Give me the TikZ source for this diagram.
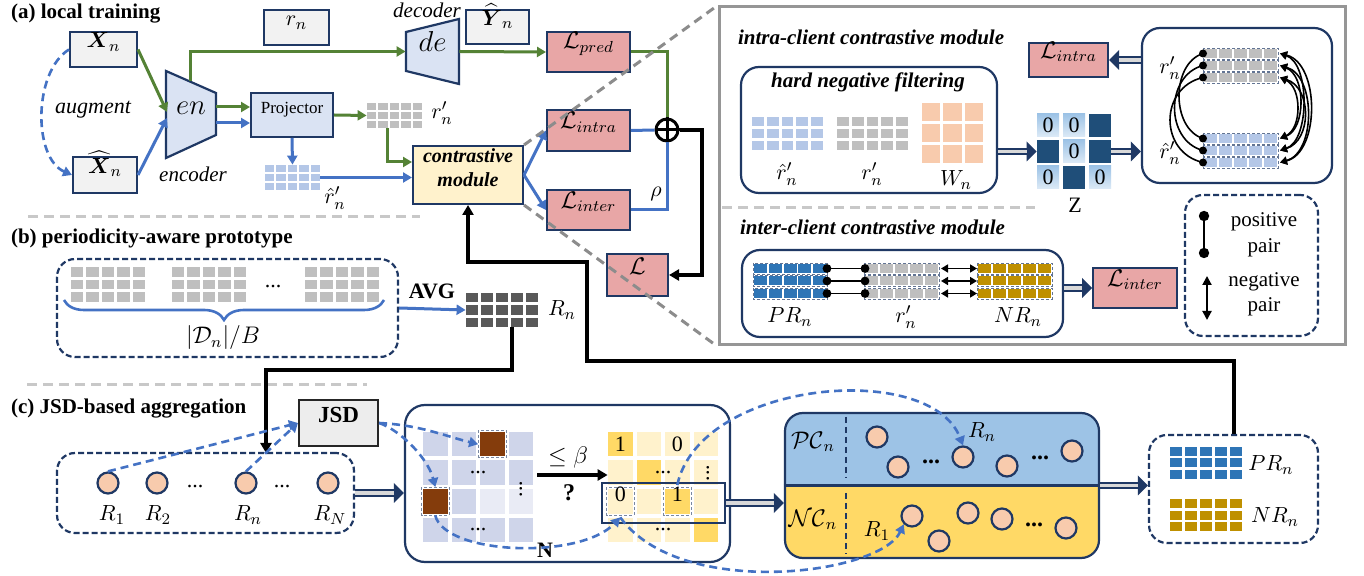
\documentclass[tikz,border=0pt]{standalone}
\usepackage{fontspec}
\setmainfont{Liberation Serif}
\usepackage{amsmath,amssymb}
\usetikzlibrary{arrows.meta,fit,decorations.pathreplacing,calc}

\definecolor{navy}{RGB}{31,56,100}
\definecolor{boxgray}{RGB}{242,242,242}
\definecolor{lblue}{RGB}{218,227,243}
\definecolor{lpink}{RGB}{232,166,166}
\definecolor{lyel}{RGB}{255,242,204}
\definecolor{agreen}{RGB}{84,130,53}
\definecolor{ablue}{RGB}{68,114,196}
\definecolor{cgray}{RGB}{191,191,191}
\definecolor{cblue}{RGB}{180,199,231}
\definecolor{cdark}{RGB}{89,89,89}
\definecolor{prblue}{RGB}{46,117,182}
\definecolor{nrgold}{RGB}{191,144,0}
\definecolor{peach}{RGB}{248,203,173}
\definecolor{zdark}{RGB}{31,78,121}
\definecolor{zlight}{RGB}{157,195,230}
\definecolor{jsdfill}{RGB}{237,237,237}
\definecolor{mpurple}{RGB}{207,213,234}
\definecolor{mpurplel}{RGB}{233,235,245}
\definecolor{mbrown}{RGB}{132,60,12}
\definecolor{mgold}{RGB}{255,217,102}
\definecolor{pcblue}{RGB}{157,195,230}
\definecolor{sepgray}{RGB}{200,200,200}
\definecolor{linkgray}{RGB}{140,140,140}
\definecolor{panelgray}{RGB}{150,150,150}

\tikzset{
  fsz/.style={font=\fontsize{#1}{#1}\selectfont},
  nbox/.style={draw=navy, line width=1pt, inner sep=0pt},
  graybox/.style={nbox, fill=boxgray, fsz=11},
  pinkbox/.style={nbox, fill=lpink, fsz=12},
  rbox/.style={draw=navy, line width=1.1pt, rounded corners=9pt, inner sep=0pt},
  dbox/.style={rbox, dash pattern=on 3pt off 1.5pt},
  gline/.style={agreen, line width=1.5pt},
  garrow/.style={gline, -{Triangle[length=4.5pt,width=5pt]}},
  bline/.style={ablue, line width=1.5pt},
  barrow/.style={bline, -{Triangle[length=4.5pt,width=5pt]}},
  kline/.style={black, line width=2pt},
  karrow/.style={kline, -{Triangle[length=5pt,width=5.5pt]}},
  bdash/.style={ablue, line width=1.3pt, dash pattern=on 4pt off 2.5pt, -{Triangle[length=4.5pt,width=5pt]}},
  sepline/.style={sepgray, line width=1.5pt, dash pattern=on 5pt off 3pt},
  linkline/.style={linkgray, line width=1.5pt, dash pattern=on 4.5pt off 3pt},
  cnode/.style={circle, fill=peach, draw=navy, line width=1.1pt, minimum size=10.5pt, inner sep=0pt},
  lab/.style={fsz=11, inner sep=1pt},
  vdot/.style={fsz=11, inner sep=0pt, rotate=90},
  celloutline/.style={draw=navy!60, line width=0.5pt, dash pattern=on 1.5pt off 1pt},
  pairline/.style={black, line width=0.8pt},
  pairtips/.style={pairline, {Triangle[length=3.5pt,width=4pt]}-{Triangle[length=3.5pt,width=4pt]}},
  ttl/.style={font=\fontsize{10.5}{12}\selectfont\bfseries, anchor=west},
  ttli/.style={font=\fontsize{10.5}{12}\selectfont\bfseries\itshape, anchor=west},
}

% grid of filled cells: x0, y0, columns, rows, cell width, cell height, gap, colour
\newcommand\cellgrid[8]{%
  \foreach \gi in {1,...,#3}{\foreach \gj in {1,...,#4}{%
    \fill[#8] ({#1+(\gi-1)*(#5+#7)},{#2+(\gj-1)*(#6+#7)}) rectangle ++(#5,#6);}}}
% one row of cells inside a dashed frame: x0, y0, cells, cell width, step, height, colour
\newcommand\cellrow[7]{%
  \foreach \gi in {1,...,#3}{\fill[#7] ({#1+1+(\gi-1)*#5},{#2+1}) rectangle ++(#4,{#6-2});}%
  \draw[navy!70, line width=0.4pt, dash pattern=on 1.5pt off 1pt] ({#1},{#2}) rectangle ++({(#3-1)*#5+#4+2},{#6});}
% thick outlined block arrow
\newcommand\holarrow[2]{%
  \draw[navy, line width=3.8pt, -{Triangle[length=5pt,width=10pt,line width=0pt]}] #1 -- #2;
  \draw[gray!30, line width=1.8pt, shorten >=5pt] #1 -- #2;}

\begin{document}
\begin{tikzpicture}[x=0.5pt,y=-0.5pt]
\fill[white] (0,0) rectangle (1364,576);
\useasboundingbox (0,0) rectangle (1364,576);

%% ================= (a) local training =================
\node[ttl] (ta) at (4,14) {(a) local training};

\node[graybox, fit={(70,32)(137,67)}] (xn) {$\boldsymbol{X}_n$};
\node[graybox, fit={(73,157)(137,193)}] (xh) {$\widehat{\boldsymbol{X}}_n$};
\node[font=\fontsize{11}{12}\selectfont\itshape] (aug) at (93,110) {augment};

% encoder
\draw[navy, line width=1.1pt, fill=lblue] (166,71) -- (216,93) -- (216,135) -- (166,158) -- cycle;
\node[fit={(166,71)(216,158)}, inner sep=0pt, fsz=15] (enc) {$en$};
\node[font=\fontsize{10.5}{12}\selectfont\itshape] (encl) at (193,174) {encoder};
\coordinate (encA) at (167,112);
\coordinate (encB) at (167,118);
\coordinate (encT) at (190,81.5);
\coordinate (encR1) at (216,107);
\coordinate (encR2) at (216,123);

% decoder
\draw[navy, line width=1.1pt, fill=lblue] (406,32) -- (459,19) -- (459,84) -- (406,71) -- cycle;
\node[fit={(406,19)(459,84)}, inner sep=0pt, fsz=15] (dec) {$de$};
\node[font=\fontsize{10.5}{12}\selectfont\itshape, inner sep=1pt] (decl) at (427,10) {decoder};

\node[graybox, fit={(264,10)(329,45)}] (rn) {$r_n$};
\node[graybox, fit={(466,10)(529,44)}] (yh) {$\widehat{\boldsymbol{Y}}_n$};

\node[nbox, fill=lblue, fit={(251,93)(333,137)}, fsz=8.5] (proj) {Projector};

% projected representations
\cellgrid{367}{103}{5}{3}{9.4}{7}{2}{cgray}
\node[fit={(367,103)(422,128)}, inner sep=0pt] (rpg) {};
\node[lab] (rpl) at (442,113) {$r'_n$};
\coordinate (rpgb) at (387,128);
\cellgrid{265}{165}{5}{3}{9.4}{7}{2}{cblue}
\node[fit={(265,165)(320,190)}, inner sep=0pt] (rhg) {};
\node[lab] (rhl) at (335,198) {$\hat{r}'_n$};

\node[nbox, fill=lyel, fit={(413,146)(523,204)}, align=center, font=\fontsize{10}{12}\selectfont\bfseries\itshape] (cm) {contrastive\\module};

\node[pinkbox, fit={(547,32)(630,72)}] (lpred) {$\mathcal{L}_{pred}$};
\node[pinkbox, fit={(547,110)(630,151)}] (lintra) {$\mathcal{L}_{intra}$};
\node[pinkbox, fit={(547,190)(630,230)}] (linter) {$\mathcal{L}_{inter}$};
\node[pinkbox, fit={(607,254)(668,296)}] (lt) {$\mathcal{L}$};
\node[lab] (rho) at (656,194) {$\rho$};

% connectors of (a)
\draw[bdash] (xn.west) .. controls (33,72) and (33,158) .. (xh.west);
\draw[garrow] (xn.east) -- (encA);
\draw[barrow] (xh.east) -- (encB);
\draw[garrow] (encT) |- (dec.west);
\draw[garrow] (encR1) -- (proj.west |- encR1);
\draw[barrow] (encR2) -- (proj.west |- encR2);
\draw[garrow] (proj.east) -- (rpg.west);
\draw[barrow] (proj.south) -- (rhg.north);
\draw[barrow] (rhg.east) -- (cm.west |- rhg.east);
\draw[garrow] (rpgb) |- ([yshift=6.5pt]cm.west);
\draw[garrow] (dec.east) -- (lpred.west);
\draw[barrow] (cm.east) -- (lintra.west);
\draw[barrow] (cm.east) -- (linter.west);
\node[circle, draw=black, fill=white, line width=1.5pt, minimum size=11pt, inner sep=0pt] (op) at (667,130) {};
\draw[gline] (lpred.east) -| (op.north);
\draw[bline] (lintra.east) -- (op.west);
\draw[bline] (linter.east) -| (op.south);
\draw[black, line width=1.5pt] (op.north) -- (op.south) (op.west) -- (op.east);
\draw[karrow] (op.east) -- ++(22,0) |- (lt.east);

\draw[sepline] (28,217) -- (420,217);

%% ================= (b) periodicity-aware prototype =================
\node[ttl] (tb) at (4,238) {(b) periodicity-aware prototype};
\node[dbox, fit={(57,259)(398,357)}] (pbox) {};
\cellgrid{71}{267}{5}{3}{12.4}{9.7}{3}{cgray}
\cellgrid{172}{267}{5}{3}{12.4}{9.7}{3}{cgray}
\cellgrid{305}{267}{5}{3}{12.4}{9.7}{3}{cgray}
\node[lab] (pdots) at (273,287) {...};
\draw[ablue, line width=1.3pt, decorate, decoration={brace, mirror, amplitude=10pt}] (64,300) -- (384,300);
\node[fsz=12] (dnb) at (223,338) {$|\mathcal{D}_n|/B$};
\node[font=\fontsize{11}{12}\selectfont\bfseries] (avg) at (432,291) {AVG};
\cellgrid{466}{293}{5}{3}{12}{9.3}{3}{cdark}
\node[fit={(466,293)(538,327)}, inner sep=0pt] (rg) {};
\node[lab] (rnl) at (562,310) {$R_n$};
\coordinate (rgb) at (512,327);
\draw[barrow] (pbox.east) -- (rg.west);

\draw[sepline] (27,385) -- (367,385);

%% ================= (c) JSD-based aggregation =================
\node[ttl] (tc) at (4,409) {(c) JSD-based aggregation};
\node[draw={rgb,255:red,38;green,38;blue,38}, fill=jsdfill, line width=1.1pt, inner sep=0pt, fit={(299,400)(378,446)}, font=\fontsize{11.5}{12}\selectfont\bfseries] (jsd) {JSD};

\node[dbox, fit={(57,453)(354,533)}] (rbx) {};
\coordinate (rbin) at (266,453);
\node[cnode] (c1) at (108,483) {};
\node[cnode] (c2) at (157,483) {};
\node[cnode] (cn) at (246,483) {};
\node[cnode] (cN) at (328,483) {};
\node[lab] (l1) at (112,515) {$R_1$};
\node[lab] (l2) at (158,515) {$R_2$};
\node[lab] (ln) at (248,515) {$R_n$};
\node[lab] (lN) at (330,515) {$R_N$};
\node[lab] (d1) at (195,487) {...};
\node[lab] (d2) at (282,487) {...};

% similarity matrix and thresholded matrix
\node[rbox, rounded corners=10pt, fit={(405,405)(730,562)}] (mbox) {};
\foreach \rr in {0,...,3}{\foreach \cc in {0,...,3}{%
  \fill[mpurple] ({423+28.5*\cc},{432+28.5*\rr}) rectangle ++(24.5,24.5);
  \fill[lyel] ({608+28.5*\cc},{432+28.5*\rr}) rectangle ++(24.5,24.5);}}
\node[fit={(423,432)(533,542)}, inner sep=0pt] (lmat) {};
\node[fit={(608,432)(718,542)}, inner sep=0pt] (rmat) {};
\fill[mpurplel] (480,489) rectangle ++(24.5,24.5);
\fill[mpurplel] (508.5,489) rectangle ++(24.5,24.5);
\fill[mbrown] (480,432) rectangle ++(24.5,24.5);
\fill[mbrown] (423,489) rectangle ++(24.5,24.5);
\draw[celloutline] (478.5,430.5) rectangle ++(27.5,27.5);
\draw[celloutline] (421.5,487.5) rectangle ++(27.5,27.5);
\node[fit={(478.5,430.5)(506,458)}, inner sep=0pt] (brA) {};
\node[fit={(421.5,487.5)(449,515)}, inner sep=0pt] (brB) {};
\node[lab, inner sep=0pt] (ld1) at (478,473) {...};
\node[lab, inner sep=0pt] (ld2) at (478,530) {...};
\node[vdot] (ld3) at (521,489) {...};

\fill[mgold] (608,432) rectangle ++(24.5,24.5);
\fill[mgold] (636.5,460.5) rectangle ++(24.5,24.5);
\fill[mgold] (665,489) rectangle ++(24.5,24.5);
\fill[mgold] (693.5,517.5) rectangle ++(24.5,24.5);
\draw[celloutline] (606.5,487.5) rectangle ++(27.5,27.5);
\draw[celloutline] (663.5,487.5) rectangle ++(27.5,27.5);
\node[fit={(606.5,487.5)(634,515)}, inner sep=0pt, lab] (zc) {0};
\node[fit={(663.5,487.5)(691,515)}, inner sep=0pt, lab] (oc) {1};
\node[lab] (m11) at (620.25,444.25) {1};
\node[lab] (m13) at (677.25,444.25) {0};
\node[lab, inner sep=0pt] (rd1) at (663,473) {...};
\node[lab, inner sep=0pt] (rd2) at (663,530) {...};
\node[vdot] (rd3) at (708,473) {...};
\node[draw=navy, line width=1.2pt, inner sep=0pt, fit={(602,483)(725,523)}] (rowr) {};
\node[fsz=12] (beta) at (568,458) {$\leq\beta$};
\node[font=\fontsize{12}{12}\selectfont\bfseries] (qm) at (569,493) {?};
\node[font=\fontsize{11}{12}\selectfont\bfseries] (nl) at (545,550) {N};

% positive / negative clusters
\begin{scope}
  \clip[rounded corners=9pt] (785,413) rectangle (1099,558);
  \fill[pcblue] (785,413) rectangle (1099,486);
  \fill[mgold] (785,486) rectangle (1099,558);
\end{scope}
\node[rbox, fit={(785,413)(1099,558)}] (pcnc) {};
\draw[navy, line width=1.1pt] (pcnc.west) -- (pcnc.east);
\draw[navy, line width=1.1pt, dash pattern=on 3pt off 2pt] (846,417) -- (846,478) (846,493) -- (846,554);
\node[fsz=12] (pcl) at (813,442) {$\mathcal{PC}_n$};
\node[fsz=12] (ncl) at (813,520) {$\mathcal{NC}_n$};
\node[cnode] (pc1) at (877,437) {};
\node[cnode] (pc2) at (898,467) {};
\node[cnode] (pc3) at (963,457) {};
\node[cnode] (pc4) at (1007,466) {};
\node[cnode] (pc5) at (1072,451) {};
\node[cnode] (nc1) at (912,516) {};
\node[cnode] (nc2) at (939,541) {};
\node[cnode] (nc3) at (968,513) {};
\node[cnode] (nc4) at (1002,519) {};
\node[cnode] (nc5) at (1066,528) {};
\node[font=\fontsize{12}{12}\selectfont\bfseries] (pd1) at (931,462) {...};
\node[font=\fontsize{12}{12}\selectfont\bfseries] (pd2) at (1040,458) {...};
\node[font=\fontsize{12}{12}\selectfont\bfseries] (nd1) at (1034,525) {...};
\node[lab] (pcrn) at (982,432) {$R_n$};
\node[lab] (ncr1) at (877,531) {$R_1$};

% prototypes
\node[dbox, fit={(1149,435)(1318,543)}] (prnr) {};
\cellgrid{1170}{447}{5}{3}{12.4}{9}{2.5}{prblue}
\cellgrid{1170}{499}{5}{3}{12.4}{9}{2.5}{nrgold}
\node[lab] (prl) at (1271,465) {$PR_n$};
\node[lab] (nrl) at (1275,517) {$NR_n$};

%% ================= contrastive module detail =================
\node[draw=panelgray, line width=1.5pt, inner sep=0pt, fit={(719,7)(1345,345)}] (panel) {};
\node[ttli] (tintra) at (731,37) {intra-client contrastive module};
\node[rbox, fit={(741,67)(997,193)}] (hnf) {};
\node[font=\fontsize{10.5}{12}\selectfont\bfseries\itshape] (hnft) at (868,82) {hard negative filtering};
\cellgrid{752}{117}{5}{3}{11.8}{9}{3}{cblue}
\cellgrid{837}{117}{5}{3}{11.8}{9}{3}{cgray}
\cellgrid{922}{103}{3}{3}{18.3}{18}{3}{peach}
\node[lab] (hl1) at (787,174) {$\hat{r}'_n$};
\node[lab] (hl2) at (872,174) {$r'_n$};
\node[lab] (hl3) at (956,180) {$W_n$};

\foreach \rr/\cc/\kk in {0/0/0,0/1/0,0/2/1,1/0/1,1/1/0,1/2/1,2/0/0,2/1/1,2/2/0}{%
  \ifnum\kk=1
    \fill[zdark] ({1037+26*\cc},{114+26*\rr}) rectangle ++(22,23);
  \else
    \shade[top color=zlight, bottom color=zlight!35] ({1037+26*\cc},{114+26*\rr}) rectangle ++(22,23);
    \node[lab] (z\rr\cc) at ({1048+26*\cc},{125.5+26*\rr}) {0};
  \fi}
\node[fit={(1037,114)(1111,189)}, inner sep=0pt] (zm) {};
\node[lab] (zl) at (1075,205) {Z};

\node[rbox, fit={(1142,28)(1332,183)}] (rb) {};
\node[pinkbox, fit={(1029,43)(1108,77)}] (lintra2) {$\mathcal{L}_{intra}$};
\node[lab] (rbl1) at (1170,68) {$r'_n$};
\node[lab] (rbl2) at (1170,153) {$\hat{r}'_n$};
\foreach \ii in {0,1,2}{%
  \cellrow{1203}{48+12*\ii}{5}{13}{15}{11}{cgray}
  \cellrow{1203}{133+12*\ii}{5}{13}{15}{11}{cblue}}
% positive pairs (left) and negative pairs (right)
\foreach \ii/\bb in {0/32,1/38,2/44}{%
  \draw[pairline] (1203,{53.5+12*\ii}) .. controls ({1203-\bb},{63.5+12*\ii}) and ({1203-\bb},{128.5+12*\ii}) .. (1203,{138.5+12*\ii});}
\foreach \ii/\jj/\bb in {0/1/30,0/2/40,1/0/26,1/2/36,2/0/22,2/1/32}{%
  \draw[pairtips] (1280,{53.5+12*\ii}) .. controls ({1280+\bb},{63.5+12*\ii}) and ({1280+\bb},{128.5+12*\jj}) .. (1280,{138.5+12*\jj});}
\foreach \ii in {0,1,2}{%
  \fill (1203,{53.5+12*\ii}) circle[radius=2pt];
  \fill (1203,{138.5+12*\ii}) circle[radius=2pt];}

\draw[sepline] (722,208) -- (1035,208);

\node[ttli] (tinter) at (733,227) {inter-client contrastive module};
\node[rbox, fit={(742,250)(1063,337)}] (ib) {};
\foreach \ii in {0,1,2}{%
  \cellrow{753}{263+12.5*\ii}{5}{13}{14.8}{11}{prblue}
  \cellrow{864}{263+12.5*\ii}{5}{13}{15}{11}{cgray}
  \cellrow{977}{263+12.5*\ii}{5}{13}{15}{11}{nrgold}
  \draw[pairline] (827,{268.5+12.5*\ii}) -- (865,{268.5+12.5*\ii});
  \fill (827,{268.5+12.5*\ii}) circle[radius=2.2pt];
  \fill (865,{268.5+12.5*\ii}) circle[radius=2.2pt];
  \draw[pairtips] (941,{268.5+12.5*\ii}) -- (977,{268.5+12.5*\ii});}
\node[lab] (il1) at (790,317) {$PR_n$};
\node[lab] (il2) at (906,317) {$r'_n$};
\node[lab] (il3) at (1018,317) {$NR_n$};
\node[pinkbox, fit={(1093,268)(1177,308)}] (linter2) {$\mathcal{L}_{inter}$};

\node[dbox, fit={(1185,195)(1318,336)}] (leg) {};
\coordinate (pp1) at (1204,216);
\coordinate (pp2) at (1204,253);
\draw[pairline, line width=1pt] (pp1) -- (pp2);
\fill (pp1) circle[radius=2.6pt];
\fill (pp2) circle[radius=2.6pt];
\coordinate (np1) at (1207,276);
\coordinate (np2) at (1207,320);
\draw[black, line width=1pt, {Triangle[length=4.5pt,width=4.5pt]}-{Triangle[length=4.5pt,width=4.5pt]}] (np1) -- (np2);
\node[fsz=10.5] (lg1) at (1264,222) {positive};
\node[fsz=10.5] (lg2) at (1264,248) {pair};
\node[fsz=10.5] (lg3) at (1264,282) {negative};
\node[fsz=10.5] (lg4) at (1264,307) {pair};

%% ================= connectors =================
\holarrow{(hnf.east |- zm.west)}{(zm.west)}
\holarrow{(zm.east)}{(rb.west |- zm.east)}
\holarrow{(rb.west |- lintra2.east)}{(lintra2.east)}
\holarrow{(ib.east |- linter2.west)}{(linter2.west)}
\holarrow{(rbx.east)}{(mbox.west |- rbx.east)}
\holarrow{(rowr.east)}{(pcnc.west |- rowr.east)}
\holarrow{(pcnc.east)}{(prnr.west |- pcnc.east)}

\draw[karrow] ([xshift=2pt,yshift=6pt]lmat.east) -- ([yshift=6pt]rmat.west);
\draw[karrow] (rgb) -- (512,370) -| (rbin);
\draw[karrow] (prnr.north) -- ++(0,-73) -| (587,262) -| (cm.south);

\draw[bdash] (c1.north) -- (jsd.west);
\draw[bdash] (cn.north) -- (jsd.west);
\draw[bdash] (jsd.east) .. controls (420,425) and (445,436) .. (brA.west);
\draw[bdash] (jsd.east) .. controls (400,430) and (428,458) .. (brB.north);
\draw[bdash] (brB.south) .. controls (445,555) and (580,560) .. (zc.south);
\draw[bdash] (zc.south) .. controls (680,600) and (880,575) .. (nc1.south west);
\draw[bdash] (oc.north) .. controls (700,380) and (930,360) .. (pc3.north);

\draw[linkline] (cm.north east) -- (panel.north west);
\draw[linkline] (cm.south east) -- (panel.south west);
\end{tikzpicture}
\end{document}
